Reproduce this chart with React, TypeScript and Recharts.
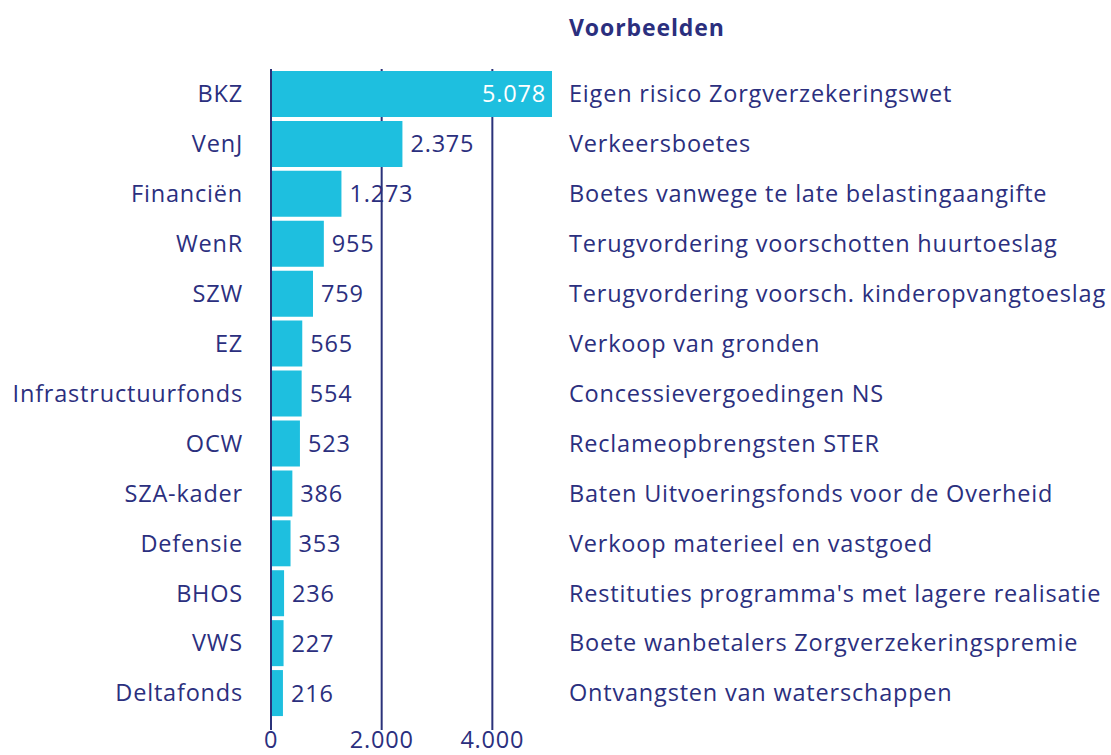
import React from 'react';
import { BarChart, Bar, XAxis, YAxis, CartesianGrid, LabelList } from 'recharts';

const departments = [
  'BKZ', 'VenJ', 'Financiën', 'WenR', 'SZW', 'EZ', 'Infrastructuurfonds',
  'OCW', 'SZA-kader', 'Defensie', 'BHOS', 'VWS', 'Deltafonds',
];
const amounts = [5078, 2375, 1273, 955, 759, 565, 554, 523, 386, 353, 236, 227, 216];
const examples = [
  'Eigen risico Zorgverzekeringswet',
  'Verkeersboetes',
  'Boetes vanwege te late belastingaangifte',
  'Terugvordering voorschotten huurtoeslag',
  'Terugvordering voorsch. kinderopvangtoeslag',
  'Verkoop van gronden',
  'Concessievergoedingen NS',
  'Reclameopbrengsten STER',
  'Baten Uitvoeringsfonds voor de Overheid',
  'Verkoop materieel en vastgoed',
  "Restituties programma's met lagere realisatie",
  'Boete wanbetalers Zorgverzekeringspremie',
  'Ontvangsten van waterschappen',
];
const xTicks = [0, 2000, 4000];
const gridValues = [2000, 4000];

const NAVY = '#2b2f7e';
const LINE = '#2b327a';
const CYAN = '#1ebfdf';
const FONT = '"Open Sans", "Noto Sans", sans-serif';
const FS = 23.5;
const LS = 0.8;

const data = departments.map((name, i) => ({ name, value: amounts[i], example: examples[i] }));

const fmt = (v: number) => String(v).replace(/\B(?=(\d{3})+(?!\d))/g, '.');

const ValueLabel = (props: any) => {
  const { x, y, width, height, value } = props;
  const inside = value > 4000;
  return (
    <text
      x={inside ? x + width - 6 : x + width + 8}
      y={y + height / 2}
      dy="0.36em"
      textAnchor={inside ? 'end' : 'start'}
      fill={inside ? '#ffffff' : NAVY}
      fontSize={FS}
      fontFamily={FONT}
      letterSpacing={LS}
    >
      {fmt(value)}
    </text>
  );
};

export default function App() {
  return (
    <div style={{ position: 'absolute', left: 0, top: 0, width: 1111, height: 755, background: '#fff', overflow: 'hidden' }}>
      <div
        style={{
          position: 'absolute', left: 569, top: 11, fontFamily: FONT, fontWeight: 'bold',
          fontSize: 23, color: NAVY, letterSpacing: 0.9,
        }}
      >
        Voorbeelden
      </div>
      <BarChart
        width={1111}
        height={755}
        data={data}
        layout="vertical"
        margin={{ top: 69, right: 0, bottom: 0, left: 0 }}
        barCategoryGap="4%"
      >
        <CartesianGrid
          horizontal={false}
          verticalValues={gridValues}
          stroke={LINE}
          strokeWidth={2}
        />
        <XAxis
          type="number"
          domain={[0, 5078]}
          ticks={xTicks}
          tickFormatter={fmt}
          axisLine={false}
          tickLine={false}
          height={25}
          tick={{ fill: NAVY, fontSize: FS, fontFamily: FONT, letterSpacing: LS }}
          tickMargin={1}
          tickSize={0}
          interval={0}
        />
        <YAxis
          yAxisId="left"
          type="category"
          dataKey="name"
          width={271}
          axisLine={{ stroke: LINE, strokeWidth: 2 }}
          tickLine={false}
          tickSize={0}
          tickMargin={28}
          padding={{ top: 0, bottom: 12 }}
          interval={0}
          tick={{ fill: NAVY, fontSize: FS, fontFamily: FONT, letterSpacing: LS }}
        />
        <YAxis
          yAxisId="right"
          orientation="right"
          type="category"
          dataKey="example"
          width={559}
          axisLine={false}
          tickLine={false}
          tickSize={0}
          tickMargin={17}
          padding={{ top: 0, bottom: 12 }}
          interval={0}
          tick={{ fill: NAVY, fontSize: FS, fontFamily: FONT, textAnchor: 'start', letterSpacing: LS }}
        />
        <Bar dataKey="value" yAxisId="left" fill={CYAN} isAnimationActive={false}>
          <LabelList dataKey="value" content={ValueLabel} />
        </Bar>
      </BarChart>
    </div>
  );
}
